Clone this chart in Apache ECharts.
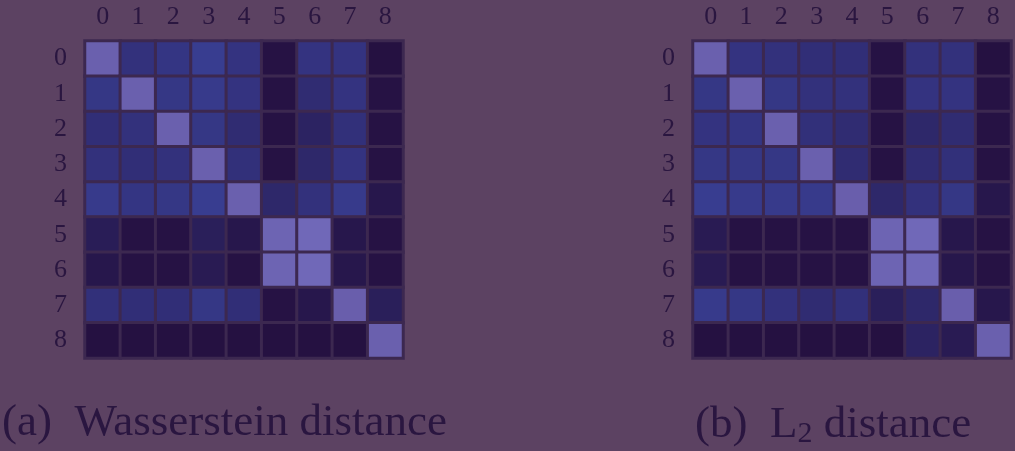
<!DOCTYPE html>
<html>
<head>
<meta charset="utf-8">
<script src="https://cdn.jsdelivr.net/npm/echarts@6/dist/echarts.min.js"></script>
<style>
  html, body { margin: 0; padding: 0; background: #5c4262; }
  #chart { width: 1015px; height: 451px; }
</style>
</head>
<body>
<div id="chart"></div>
<script>
// 类别
const classes = ["0", "1", "2", "3", "4", "5", "6", "7", "8"];

// (a) Wasserstein 距离矩阵（按行，0 在上）
const wasserstein = [
  [0.9, 0.42, 0.48, 0.6, 0.45, 0.05, 0.45, 0.45, 0.03],
  [0.5, 0.9, 0.5, 0.55, 0.45, 0.05, 0.35, 0.45, 0.05],
  [0.38, 0.42, 0.9, 0.5, 0.35, 0.05, 0.25, 0.4, 0.05],
  [0.42, 0.38, 0.42, 0.9, 0.4, 0.05, 0.3, 0.45, 0.05],
  [0.55, 0.48, 0.5, 0.6, 0.9, 0.3, 0.42, 0.55, 0.1],
  [0.18, 0.05, 0.05, 0.2, 0.1, 0.95, 1.0, 0.1, 0.05],
  [0.1, 0.05, 0.05, 0.15, 0.05, 0.95, 1.0, 0.1, 0.05],
  [0.4, 0.38, 0.38, 0.5, 0.38, 0.05, 0.1, 0.88, 0.2],
  [0.03, 0.03, 0.03, 0.03, 0.03, 0.03, 0.03, 0.03, 0.9],
];

// (b) L2 距离矩阵
const l2 = [
  [0.9, 0.45, 0.42, 0.38, 0.38, 0.05, 0.42, 0.42, 0.03],
  [0.5, 0.9, 0.5, 0.42, 0.42, 0.05, 0.45, 0.45, 0.05],
  [0.45, 0.48, 0.9, 0.4, 0.35, 0.05, 0.3, 0.35, 0.05],
  [0.5, 0.5, 0.5, 0.9, 0.35, 0.05, 0.35, 0.4, 0.05],
  [0.6, 0.55, 0.55, 0.55, 0.88, 0.3, 0.42, 0.5, 0.1],
  [0.15, 0.05, 0.05, 0.05, 0.05, 0.95, 1.0, 0.1, 0.05],
  [0.15, 0.05, 0.05, 0.05, 0.05, 0.95, 1.0, 0.1, 0.05],
  [0.55, 0.5, 0.42, 0.35, 0.4, 0.2, 0.3, 0.88, 0.1],
  [0.03, 0.03, 0.03, 0.03, 0.03, 0.03, 0.25, 0.15, 0.9],
];

const toCells = (m) => {
  const out = [];
  m.forEach((row, r) => row.forEach((v, c) => out.push([c, r, v])));
  return out;
};

const labelFont = {
  color: "#2a1640",
  fontFamily: "Liberation Serif",
  fontSize: 26,
};

const makeX = (gridIndex) => ({
  type: "category",
  gridIndex,
  data: classes,
  position: "top",
  axisLine: { show: false },
  axisTick: { show: false },
  axisLabel: { ...labelFont, margin: 11 },
  splitArea: { show: false },
});
const makeY = (gridIndex) => ({
  type: "category",
  gridIndex,
  data: classes,
  inverse: true,
  axisLine: { show: false },
  axisTick: { show: false },
  axisLabel: { ...labelFont, margin: 18 },
});

const chart = echarts.init(document.getElementById("chart"));
chart.setOption({
  backgroundColor: "#5c4262",
  animation: false,
  grid: [
    { left: 85, top: 41, width: 318, height: 317 },
    { left: 693, top: 41, width: 318, height: 317 },
  ],
  xAxis: [makeX(0), makeX(1)],
  yAxis: [makeY(0), makeY(1)],
  visualMap: {
    show: false,
    min: 0,
    max: 1,
    seriesIndex: [0, 1],
    inRange: {
      color: ["#240e3d", "#2a1f5a", "#32307a", "#383d90", "#6458a4", "#7068b8"],
    },
  },
  title: [
    {
      text: "(a)  Wasserstein distance",
      left: -3,
      top: 396,
      textStyle: { color: "#2a1640", fontFamily: "Liberation Serif", fontSize: 45, fontWeight: "normal" },
    },
    {
      text: "(b)  L{sub|2} distance",
      left: 690,
      top: 396,
      textStyle: {
        color: "#2a1640",
        fontFamily: "Liberation Serif",
        fontSize: 45,
        fontWeight: "normal",
        rich: {
          sub: { fontFamily: "Liberation Serif", fontSize: 30, color: "#2a1640", verticalAlign: "bottom", padding: [18, 0, 0, 0] },
        },
      },
    },
  ],
  series: [
    {
      type: "heatmap",
      xAxisIndex: 0,
      yAxisIndex: 0,
      data: toCells(wasserstein),
      itemStyle: { borderColor: "#3c2850", borderWidth: 3 },
      emphasis: { disabled: true },
    },
    {
      type: "heatmap",
      xAxisIndex: 1,
      yAxisIndex: 1,
      data: toCells(l2),
      itemStyle: { borderColor: "#3c2850", borderWidth: 3 },
      emphasis: { disabled: true },
    },
  ],
});
</script>
</body>
</html>
